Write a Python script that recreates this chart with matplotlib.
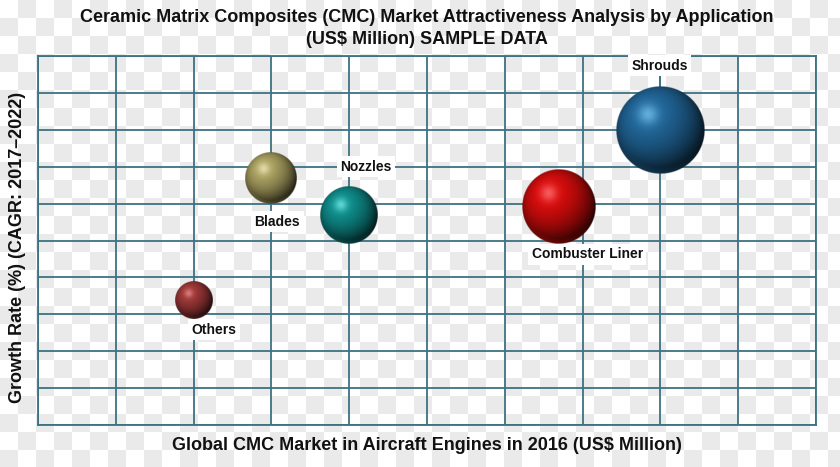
import numpy as np
import matplotlib
matplotlib.use("Agg")
import matplotlib.pyplot as plt

plt.rcParams['font.family'] = ['Liberation Sans', 'DejaVu Sans']

# application segments
apps = ["Others", "Blades", "Nozzles", "Combuster Liner", "Shrouds"]
market = [2.0, 3.0, 4.0, 6.7, 8.0]          # x: market size (grid units)
growth = [3.4, 6.7, 5.7, 5.9, 8.0]          # y: CAGR (grid units)
bubble_r = [19, 26, 29, 37, 44]             # bubble radius in pixels

base_cols = ["#a03838", "#aca262", "#0e8e8c", "#d80c0c", "#21679a"]
hi_cols = ["#e89494", "#f2ecc2", "#7ef0ea", "#ff7a7a", "#7cc8f2"]
# label offsets (pixels) from bubble centre
label_off = [(20, -30), (6, -44), (17, 48), (28, -47), (-1, 64)]

W, H = 840, 467
fig = plt.figure(figsize=(W / 100, H / 100), dpi=100)

# checkerboard "transparent" background
sq = 18
yy, xx = np.mgrid[0:H, 0:W]
checker = ((xx // sq + yy // sq) % 2).astype(float)
bg = np.where(checker[..., None] == 1, np.array([0.92, 0.92, 0.92]), np.array([1.0, 1.0, 1.0]))
bgax = fig.add_axes([0, 0, 1, 1], zorder=-10)
bgax.imshow(bg, aspect='auto', interpolation='nearest')
bgax.axis('off')

left, right, top, bottom = 38, 816, 56, 425
ax = fig.add_axes([left / W, 1 - bottom / H, (right - left) / W, (bottom - top) / H])
ax.patch.set_alpha(0)
ax.set_xlim(0, 10)
ax.set_ylim(0, 10)
ax.set_xticks(range(11))
ax.set_yticks(range(11))
ax.tick_params(length=0, labelbottom=False, labelleft=False)
grid_col = "#3d7283"
ax.grid(True, color=grid_col, linewidth=1.3)
for s in ax.spines.values():
    s.set_color(grid_col)
    s.set_linewidth(1.3)
ax.set_axisbelow(True)

px_x = (right - left) / 10.0
px_y = (bottom - top) / 10.0


def sphere_img(base, hi, n=240):
    base = np.array(matplotlib.colors.to_rgb(base))
    hi = np.array(matplotlib.colors.to_rgb(hi))
    v, u = np.mgrid[1:-1:n * 1j, -1:1:n * 1j]
    r2 = u ** 2 + v ** 2
    z = np.sqrt(np.clip(1 - r2, 0, 1))
    L = np.array([-0.3, 0.4, 0.87])
    L = L / np.linalg.norm(L)
    d = u * L[0] + v * L[1] + z * L[2]
    d = np.clip((d + 0.5) / 1.5, 0, 1)   # wrap lighting
    shade = 0.04 + 1.0 * d ** 1.3
    col = base[None, None, :] * shade[..., None]
    # soft highlight
    hx, hy = -0.28, 0.36
    g = np.exp(-((u - hx) ** 2 + (v - hy) ** 2) / 0.05)
    col = col * (1 - 0.7 * g[..., None]) + hi[None, None, :] * 0.7 * g[..., None]
    # faint rim light at the bottom
    rim = np.clip((np.sqrt(r2) - 0.85) / 0.15, 0, 1) * np.clip(-v, 0, 1) ** 2
    col = col + base[None, None, :] * 0.35 * rim[..., None]
    col = np.clip(col, 0, 1)
    alpha = np.clip((1 - np.sqrt(r2)) * n / 2.5, 0, 1)
    return np.dstack([col, alpha])


for name, x, y, r, bc, hc, off in zip(apps, market, growth, bubble_r, base_cols, hi_cols, label_off):
    rx, ry = r / px_x, r / px_y
    ax.imshow(sphere_img(bc, hc), extent=[x - rx, x + rx, y - ry, y + ry],
              aspect='auto', interpolation='bilinear', zorder=5)
    if name == "Shrouds":
        ax.plot([x, x], [y, y + (off[1] - 8) / px_y], color=grid_col, linewidth=1.2, zorder=4)
    ax.annotate(name, (x, y), xytext=off, textcoords='offset pixels',
                ha='center', va='center', fontsize=10, fontweight='bold', color='#111111',
                bbox=dict(boxstyle='square,pad=0.25', fc='white', ec='none'), zorder=6)

ax.set_xlim(0, 10)
ax.set_ylim(0, 10)

fs = 13
fig.text(427 / W, 1 - 17 / H, "Ceramic Matrix Composites (CMC) Market Attractiveness Analysis by Application",
         ha='center', va='center', fontsize=fs, fontweight='bold', color='#111111')
fig.text(427 / W, 1 - 39 / H, "(US$ Million) SAMPLE DATA",
         ha='center', va='center', fontsize=fs, fontweight='bold', color='#111111')
fig.text(427 / W, 1 - 445 / H, "Global CMC Market in Aircraft Engines in 2016 (US$ Million)",
         ha='center', va='center', fontsize=fs, fontweight='bold', color='#111111')
fig.text(18 / W, 1 - 247 / H, "Growth Rate (%) (CAGR: 2017\u20132022)", rotation=90,
         ha='center', va='center', fontsize=fs, fontweight='bold', color='#111111')

fig.savefig("out.png", dpi=100)
